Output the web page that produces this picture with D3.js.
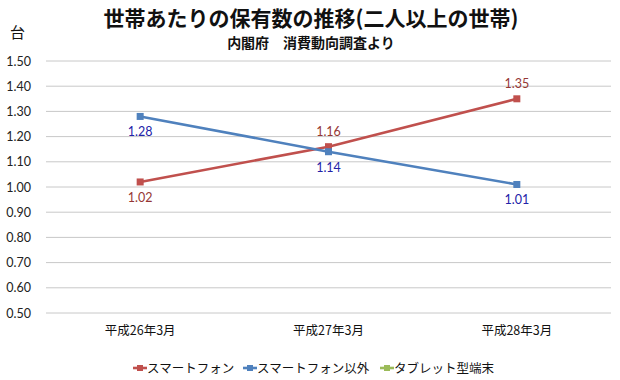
<!DOCTYPE html>
<html>
<head>
<meta charset="utf-8">
<script src="https://cdn.jsdelivr.net/npm/d3@7"></script>
<style>
  body { margin: 0; background: #fff; }
  svg { display: block; }
  text { font-family: "Noto Sans CJK JP", sans-serif; }
  .num { font-family: Lato, "Noto Sans", sans-serif; }
</style>
</head>
<body>
<svg id="chart"></svg>
<script>
var width = 620;
var height = 380;

// data
var categories = ["平成26年3月", "平成27年3月", "平成28年3月"];
var smartphone = [1.02, 1.16, 1.35];
var featurePhone = [1.28, 1.14, 1.01];
var tablet = [null, null, null]; // only in legend, no points shown
var yTicks = [0.5, 0.6, 0.7, 0.8, 0.9, 1.0, 1.1, 1.2, 1.3, 1.4, 1.5];

var series = [
    { name: "スマートフォン", values: smartphone, color: "#c0504d", labelColor: "#953735", labelPos: ["below", "above", "above"] },
    { name: "スマートフォン以外", values: featurePhone, color: "#4f81bd", labelColor: "#2222a8", labelPos: ["below", "below", "below"] },
    { name: "タブレット型端末", values: tablet, color: "#9bbb59", labelColor: "#4f6228", labelPos: [] }
];

var margin = { top: 61, right: 9, bottom: 67, left: 46 };

var svg = d3.select("#chart")
    .attr("width", width)
    .attr("height", height);

var x = d3.scaleBand()
    .domain(categories)
    .range([margin.left, width - margin.right]);

var y = d3.scaleLinear()
    .domain([0.5, 1.5])
    .range([height - margin.bottom, margin.top]);

// gridlines
svg.append("g")
    .selectAll("line")
    .data(yTicks)
    .enter()
    .append("line")
        .attr("x1", margin.left)
        .attr("x2", width - margin.right)
        .attr("y1", d => y(d))
        .attr("y2", d => y(d))
        .attr("stroke", "#c8c8c8")
        .attr("stroke-width", 1);

// y axis labels
var yAxis = d3.axisLeft(y).tickValues(yTicks).tickFormat(d3.format(".2f")).tickSize(0).tickPadding(15);
var gy = svg.append("g")
    .attr("transform", "translate(" + margin.left + ",0)")
    .call(yAxis);
gy.select(".domain").remove();
gy.selectAll("text")
    .attr("class", "num")
    .attr("font-size", 12.5)
    .attr("fill", "#222");

// x axis labels
var xAxis = d3.axisBottom(x).tickSize(0).tickPadding(13);
var gx = svg.append("g")
    .attr("transform", "translate(0," + (height - margin.bottom) + ")")
    .call(xAxis);
gx.select(".domain").remove();
gx.selectAll("text")
    .attr("font-size", 12.5)
    .attr("fill", "#111");

var line = d3.line()
    .defined(d => d != null)
    .x((d, i) => x(categories[i]) + x.bandwidth() / 2)
    .y(d => y(d));

series.forEach(function(s) {
    var g = svg.append("g");
    g.append("path")
        .datum(s.values)
        .attr("fill", "none")
        .attr("stroke", s.color)
        .attr("stroke-width", 2.6)
        .attr("d", line);

    var pts = s.values.map((v, i) => ({ v: v, i: i })).filter(d => d.v != null);

    g.selectAll("rect")
        .data(pts)
        .enter()
        .append("rect")
            .attr("x", d => x(categories[d.i]) + x.bandwidth() / 2 - 3.5)
            .attr("y", d => y(d.v) - 3.5)
            .attr("width", 7)
            .attr("height", 7)
            .attr("fill", s.color);

    g.selectAll("text")
        .data(pts)
        .enter()
        .append("text")
            .attr("class", "num")
            .attr("x", d => x(categories[d.i]) + x.bandwidth() / 2)
            .attr("y", d => s.labelPos[d.i] == "above" ? y(d.v) - 11 : y(d.v) + 20)
            .attr("text-anchor", "middle")
            .attr("font-size", 12.5)
            .attr("fill", s.labelColor)
            .text(d => d.v.toFixed(2));
});

// titles
svg.append("text")
    .attr("x", 311)
    .attr("y", 26)
    .attr("text-anchor", "middle")
    .attr("font-size", 21)
    .attr("font-weight", "bold")
    .attr("fill", "#111")
    .text("世帯あたりの保有数の推移(二人以上の世帯)");

svg.append("text")
    .attr("x", 311)
    .attr("y", 48)
    .attr("text-anchor", "middle")
    .attr("font-size", 14)
    .attr("font-weight", "bold")
    .attr("fill", "#111")
    .text("内閣府　消費動向調査より");

svg.append("text")
    .attr("x", 10)
    .attr("y", 38)
    .attr("font-size", 15)
    .attr("fill", "#111")
    .text("台");

// legend
var legendX = [133, 243, 380];
var legend = svg.append("g")
    .selectAll("g")
    .data(series)
    .enter()
    .append("g")
        .attr("transform", (d, i) => "translate(" + legendX[i] + ",368)");

legend.append("line")
    .attr("x1", 0).attr("x2", 14)
    .attr("stroke", d => d.color)
    .attr("stroke-width", 2.6);
legend.append("rect")
    .attr("x", 4).attr("y", -3).attr("width", 6).attr("height", 6)
    .attr("fill", d => d.color);
legend.append("text")
    .attr("x", 14)
    .attr("y", 4.5)
    .attr("font-size", 12.5)
    .attr("fill", "#111")
    .text(d => d.name);
</script>
</body>
</html>
